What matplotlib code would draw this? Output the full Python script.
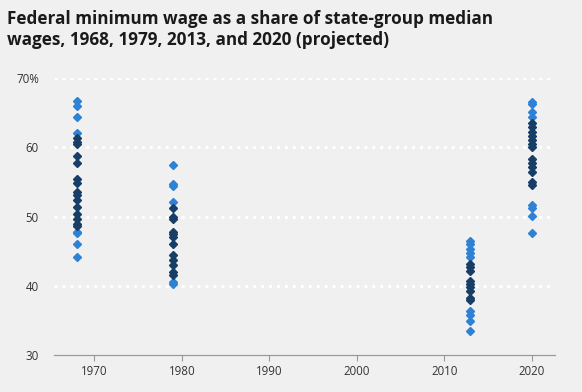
import numpy as np
import matplotlib.pyplot as plt

# values (percent of state-group median wage)
years = [1968, 1979, 2013, 2020]

light_1968 = [66.7, 66.0, 64.4, 62.0, 47.8, 47.6, 46.1, 44.2]
dark_1968 = [61.3, 60.8, 60.5, 58.7, 57.7, 55.4, 54.9, 53.6, 53.1, 52.4,
             51.4, 50.4, 49.7, 49.0, 48.6]

light_1979 = [57.5, 54.65, 54.4, 52.1, 40.6, 40.25]
dark_1979 = [51.2, 49.9, 49.6, 47.8, 47.5, 47.1, 46.1, 44.4, 43.7, 43.0,
             42.0, 41.6]

light_2013 = [46.5, 46.0, 45.3, 44.7, 44.2, 36.35, 35.8, 35.0, 33.5]
dark_2013 = [43.2, 42.75, 42.1, 40.75, 40.25, 39.8, 39.2, 38.3, 38.0]

light_2020 = [66.6, 66.2, 65.1, 64.4, 51.7, 51.2, 50.1, 47.7]
dark_2020 = [63.45, 62.9, 62.2, 61.7, 61.1, 60.5, 60.1, 58.35, 57.8, 57.1,
             56.5, 55.0, 54.6]

light_vals = [light_1968, light_1979, light_2013, light_2020]
dark_vals = [dark_1968, dark_1979, dark_2013, dark_2020]

ytick_vals = [30, 40, 50, 60, 70]
ytick_labels = ['30', '40', '50', '60', '70%']
xtick_vals = [1970, 1980, 1990, 2000, 2010, 2020]

bg = '#f0f0f0'
light_c = '#2d82d5'
dark_c = '#163e66'

plt.rcParams['font.family'] = ['Open Sans', 'DejaVu Sans']

fig = plt.figure(figsize=(5.82, 3.92), dpi=100, facecolor=bg)
ax = fig.add_axes([0.093, 0.094, 0.861, 0.707], facecolor=bg)

for yr, lv, dv in zip(years, light_vals, dark_vals):
    ax.plot([yr] * len(lv), lv, linestyle='none', marker='D', ms=4.5,
            color=light_c, mec=light_c, zorder=3)
    ax.plot([yr] * len(dv), dv, linestyle='none', marker='D', ms=4.5,
            color=dark_c, mec=dark_c, zorder=4)

for g in ytick_vals[1:]:
    ax.axhline(g, color='white', lw=2.2, linestyle=(0, (1, 1.6)), zorder=1)

ax.set_xlim(1965.4, 2022.7)
ax.set_ylim(30, 70)
ax.set_xticks(xtick_vals)
ax.set_yticks(ytick_vals)
ax.set_yticklabels(ytick_labels)

for s in ['top', 'right', 'left']:
    ax.spines[s].set_visible(False)
ax.spines['bottom'].set_color('#9a9a9a')
ax.spines['bottom'].set_linewidth(0.9)

ax.tick_params(axis='x', length=4, width=0.8, color='#9a9a9a', labelsize=8.3,
               labelcolor='#333333', pad=3)
ax.tick_params(axis='y', length=0, labelsize=8.3, labelcolor='#333333', pad=11)

fig.text(0.012, 0.975, 'Federal minimum wage as a share of state-group median\n'
         'wages, 1968, 1979, 2013, and 2020 (projected)',
         ha='left', va='top', fontsize=12.3, fontweight='bold', color='#1a1a1a',
         linespacing=1.25)

fig.savefig('out.png', dpi=100, facecolor=bg)
